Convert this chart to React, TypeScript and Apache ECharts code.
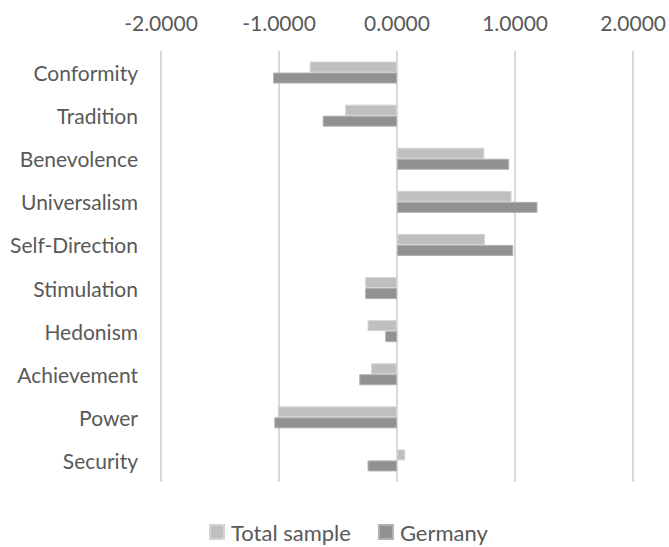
import React, { useEffect, useRef } from "react";
import * as echarts from "echarts";

const categories = [
  "Conformity",
  "Tradition",
  "Benevolence",
  "Universalism",
  "Self-Direction",
  "Stimulation",
  "Hedonism",
  "Achievement",
  "Power",
  "Security",
];

const totalSample = [-0.74, -0.44, 0.74, 0.97, 0.745, -0.27, -0.25, -0.22, -1.01, 0.07];
const germany = [-1.05, -0.63, 0.95, 1.19, 0.985, -0.27, -0.1, -0.32, -1.04, -0.25];

const FONT = "Lato";
const TEXT = "#595959";

export default function App() {
  const ref = useRef<HTMLDivElement>(null);

  useEffect(() => {
    if (!ref.current) return;
    const chart = echarts.init(ref.current, undefined, { renderer: "svg" });
    chart.setOption({
      animation: false,
      textStyle: { fontFamily: FONT },
      grid: { left: 161, right: 34, top: 51, bottom: 65, containLabel: false },
      legend: {
        top: 521,
        left: 209,
        padding: 0,
        itemWidth: 14,
        itemHeight: 14,
        itemGap: 27,
        icon: "rect",
        textStyle: { fontFamily: FONT, fontSize: 22, color: TEXT, padding: [0, 0, 0, 2] },
        data: ["Total sample", "Germany"],
      },
      xAxis: {
        type: "value",
        position: "top",
        min: -2,
        max: 2,
        interval: 1,
        axisLine: { show: false },
        axisTick: { show: false },
        splitLine: { lineStyle: { color: "#d9d9d9", width: 2 } },
        axisLabel: {
          color: TEXT,
          fontFamily: FONT,
          fontSize: 21,
          margin: 18,
          formatter: (v: number) => v.toFixed(4),
        },
      },
      yAxis: {
        type: "category",
        inverse: true,
        data: categories,
        axisLine: { show: false },
        axisTick: { show: false },
        axisLabel: { color: TEXT, fontFamily: FONT, fontSize: 21, margin: 23 },
      },
      series: [
        {
          name: "Total sample",
          type: "bar",
          data: totalSample,
          barWidth: 11,
          barGap: "0%",
          itemStyle: { color: "#bfbfbf", borderColor: "#d4d4d4", borderWidth: 1 },
        },
        {
          name: "Germany",
          type: "bar",
          data: germany,
          barWidth: 11,
          barGap: "0%",
          itemStyle: { color: "#919191", borderColor: "#b0b0b0", borderWidth: 1 },
        },
      ],
    });
    return () => chart.dispose();
  }, []);

  return (
    <div
      ref={ref}
      style={{ position: "absolute", left: 0, top: 0, width: 669, height: 547, background: "#ffffff" }}
    />
  );
}
